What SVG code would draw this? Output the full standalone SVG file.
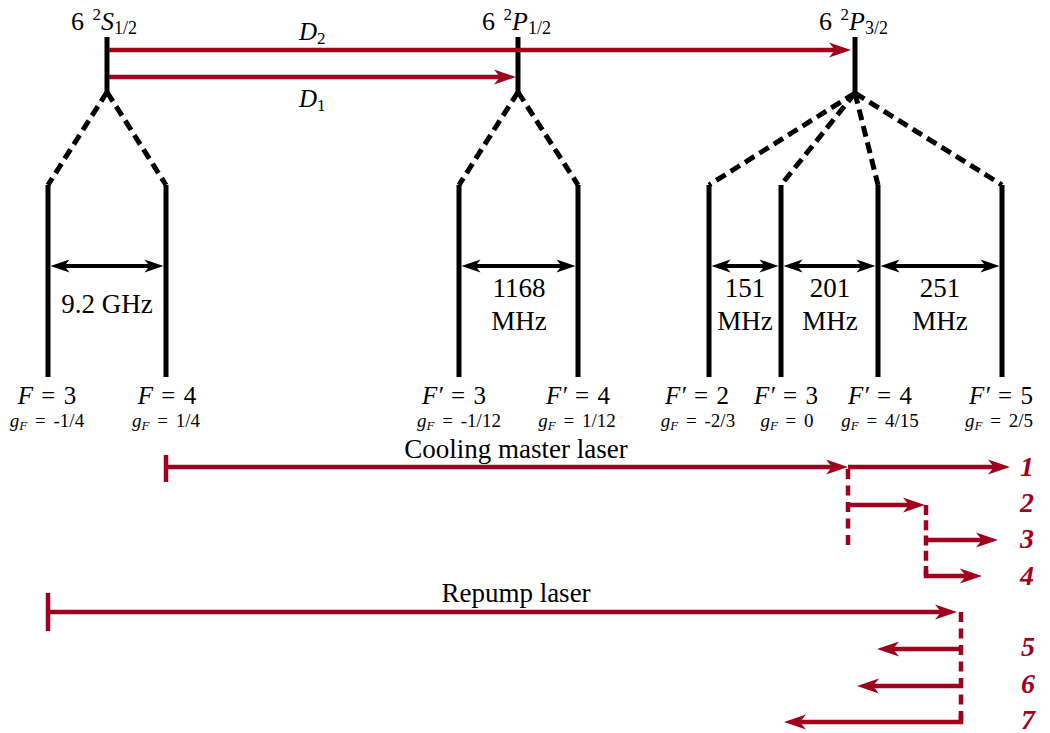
<svg xmlns="http://www.w3.org/2000/svg" width="1050" height="733" viewBox="0 0 1050 733" font-family="'Liberation Serif','Times New Roman',serif">
<defs>
<style>
.lvl{stroke:#000;stroke-width:5;fill:none}
.dash{stroke:#000;stroke-width:5;fill:none;stroke-dasharray:11 6}
.dim{stroke:#000;stroke-width:4;fill:none;marker-start:url(#ak);marker-end:url(#ak)}
.red{stroke:#A0001E;stroke-width:4.5;fill:none}
.reda{stroke:#A0001E;stroke-width:4.5;fill:none;marker-end:url(#ar)}
.redd{stroke:#A0001E;stroke-width:4.5;fill:none}
text{font-family:"Liberation Serif","Times New Roman",serif;fill:#000}
.t26{font-size:26px}
.t27{font-size:27px}
.big{font-size:25px;word-spacing:2px}
.small{font-size:19px;word-spacing:3px}
.it{font-style:italic}
.num{font-size:28px;font-style:italic;font-weight:bold;fill:#A0001E}
.mid{text-anchor:middle}
</style>
<marker id="ar" markerUnits="userSpaceOnUse" markerWidth="24" markerHeight="16" refX="9" refY="7.5" orient="auto-start-reverse" overflow="visible">
<path d="M0,0 L22,7.5 L0,15 L6,7.5 z" fill="#A0001E"/>
</marker>
<marker id="ak" markerUnits="userSpaceOnUse" markerWidth="20" markerHeight="14" refX="7" refY="6.5" orient="auto-start-reverse" overflow="visible">
<path d="M0,0 L19,6.5 L0,13 L5,6.5 z" fill="#000"/>
</marker>
</defs>

<g id="S12">
<line class="lvl" x1="107" y1="37" x2="107" y2="92"/>
<text x="71" y="30" class="t26">6 <tspan font-size="17" dx="2" dy="-10">2</tspan><tspan class="it" dy="10">S</tspan><tspan font-size="18" dy="4">1/2</tspan></text>
<path class="dash" d="M107,92 L48,185"/>
<path class="dash" d="M107,92 L166,185"/>
</g>
<g id="P12">
<line class="lvl" x1="518" y1="37" x2="518" y2="92"/>
<text x="482" y="30" class="t26">6 <tspan font-size="17" dx="2" dy="-10">2</tspan><tspan class="it" dy="10">P</tspan><tspan font-size="18" dy="4">1/2</tspan></text>
<path class="dash" d="M518,92 L459,185"/>
<path class="dash" d="M518,92 L578,185"/>
</g>
<g id="P32">
<line class="lvl" x1="855" y1="37" x2="855" y2="93"/>
<text x="819" y="30" class="t26">6 <tspan font-size="17" dx="2" dy="-10">2</tspan><tspan class="it" dy="10">P</tspan><tspan font-size="18" dy="4">3/2</tspan></text>
<path class="dash" d="M855,93 L709,185"/>
<path class="dash" d="M855,93 L781,185"/>
<path class="dash" d="M855,93 L878,185"/>
<path class="dash" d="M855,93 L1002,185"/>
</g>

<g id="S-F3">
<line class="lvl" x1="48" y1="185" x2="48" y2="377"/>
<text x="47" y="404" class="big mid"><tspan class="it">F</tspan> = 3</text>
<text x="47" y="427" class="small mid"><tspan class="it">g<tspan font-size="13" dy="3">F</tspan></tspan><tspan dy="-3"> = -1/4</tspan></text>
</g>
<g id="S-F4">
<line class="lvl" x1="166" y1="185" x2="166" y2="377"/>
<text x="167" y="404" class="big mid"><tspan class="it">F</tspan> = 4</text>
<text x="166" y="427" class="small mid"><tspan class="it">g<tspan font-size="13" dy="3">F</tspan></tspan><tspan dy="-3"> = 1/4</tspan></text>
</g>
<g id="P12-F3">
<line class="lvl" x1="459" y1="185" x2="459" y2="377"/>
<text x="454" y="404" class="big mid"><tspan class="it">F′</tspan> = 3</text>
<text x="459" y="427" class="small mid"><tspan class="it">g<tspan font-size="13" dy="3">F</tspan></tspan><tspan dy="-3"> = -1/12</tspan></text>
</g>
<g id="P12-F4">
<line class="lvl" x1="578" y1="185" x2="578" y2="377"/>
<text x="578" y="404" class="big mid"><tspan class="it">F′</tspan> = 4</text>
<text x="577" y="427" class="small mid"><tspan class="it">g<tspan font-size="13" dy="3">F</tspan></tspan><tspan dy="-3"> = 1/12</tspan></text>
</g>
<g id="P32-F2">
<line class="lvl" x1="709" y1="185" x2="709" y2="377"/>
<text x="697" y="404" class="big mid"><tspan class="it">F′</tspan> = 2</text>
<text x="698" y="427" class="small mid"><tspan class="it">g<tspan font-size="13" dy="3">F</tspan></tspan><tspan dy="-3"> = -2/3</tspan></text>
</g>
<g id="P32-F3">
<line class="lvl" x1="781" y1="185" x2="781" y2="377"/>
<text x="786" y="404" class="big mid"><tspan class="it">F′</tspan> = 3</text>
<text x="787" y="427" class="small mid"><tspan class="it">g<tspan font-size="13" dy="3">F</tspan></tspan><tspan dy="-3"> = 0</tspan></text>
</g>
<g id="P32-F4">
<line class="lvl" x1="878" y1="185" x2="878" y2="377"/>
<text x="880" y="404" class="big mid"><tspan class="it">F′</tspan> = 4</text>
<text x="880" y="427" class="small mid"><tspan class="it">g<tspan font-size="13" dy="3">F</tspan></tspan><tspan dy="-3"> = 4/15</tspan></text>
</g>
<g id="P32-F5">
<line class="lvl" x1="1002" y1="185" x2="1002" y2="377"/>
<text x="1001" y="404" class="big mid"><tspan class="it">F′</tspan> = 5</text>
<text x="999" y="427" class="small mid"><tspan class="it">g<tspan font-size="13" dy="3">F</tspan></tspan><tspan dy="-3"> = 2/5</tspan></text>
</g>

<g id="splittings">
<line class="dim" x1="62.5" y1="266" x2="151.5" y2="266"/>
<text x="107" y="313" class="t27 mid">9.2 GHz</text>
<line class="dim" x1="473.5" y1="266" x2="563.5" y2="266"/>
<text x="519" y="297" class="t27 mid">1168</text>
<text x="519" y="330" class="t27 mid">MHz</text>
<line class="dim" x1="723.5" y1="266" x2="766.5" y2="266"/>
<text x="745" y="297" class="t27 mid">151</text>
<text x="745" y="330" class="t27 mid">MHz</text>
<line class="dim" x1="795.5" y1="266" x2="863.5" y2="266"/>
<text x="830" y="297" class="t27 mid">201</text>
<text x="830" y="330" class="t27 mid">MHz</text>
<line class="dim" x1="892.5" y1="266" x2="987.5" y2="266"/>
<text x="940" y="297" class="t27 mid">251</text>
<text x="940" y="330" class="t27 mid">MHz</text>
</g>

<g id="connectors">
<line class="reda" x1="109" y1="50" x2="838" y2="50"/>
<line class="reda" x1="109" y1="77" x2="503" y2="77"/>
<text x="299" y="40" font-size="25"><tspan class="it">D</tspan><tspan font-size="17" dy="4">2</tspan></text>
<text x="299" y="107" font-size="25"><tspan class="it">D</tspan><tspan font-size="17" dy="4">1</tspan></text>

<line class="red" x1="166" y1="455" x2="166" y2="482"/>
<line class="reda" x1="166" y1="467" x2="835" y2="467"/>
<text x="516" y="458" class="t27 mid">Cooling master laser</text>
<line class="reda" x1="848" y1="467" x2="997" y2="467"/>
<path class="redd" stroke-dasharray="10 6.5" d="M848,469 L848,545"/>
<line class="reda" x1="846" y1="505" x2="912" y2="505"/>
<path class="redd" stroke-dasharray="10 5.25" d="M926,505 L926,576"/>
<line class="reda" x1="926" y1="540" x2="985" y2="540"/>
<path class="reda" d="M926,570 L926,576 L969,576"/>

<line class="red" x1="48" y1="593" x2="48" y2="631"/>
<line class="reda" x1="48" y1="612" x2="944" y2="612"/>
<text x="516" y="602" class="t27 mid">Repump laser</text>
<path class="redd" stroke-dasharray="10 6.5" d="M961,612 L961,722"/>
<line class="reda" x1="963" y1="649" x2="890" y2="649"/>
<line class="reda" x1="963" y1="686" x2="870" y2="686"/>
<path class="reda" d="M961,714 L961,722 L797,722"/>

<text x="1027" y="476" class="num mid">1</text>
<text x="1027" y="512" class="num mid">2</text>
<text x="1027" y="548" class="num mid">3</text>
<text x="1027" y="585" class="num mid">4</text>
<text x="1028" y="656" class="num mid">5</text>
<text x="1028" y="693" class="num mid">6</text>
<text x="1028" y="729" class="num mid">7</text>
</g>
</svg>
